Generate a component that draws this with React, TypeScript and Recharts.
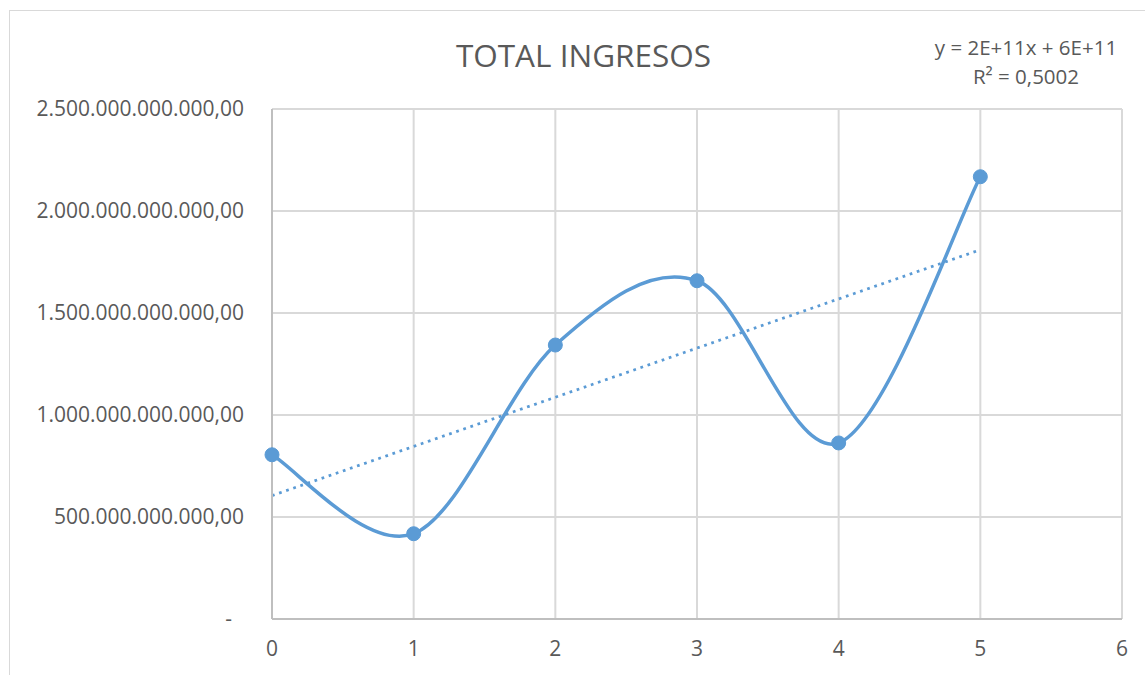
import * as React from 'react';
import { LineChart, Line, XAxis, YAxis, CartesianGrid } from 'recharts';

// Total ingresos por periodo
const periods = [0, 1, 2, 3, 4, 5];
const ingresos = [805e9, 418e9, 1343e9, 1658e9, 863e9, 2168e9];

// lineal trendline endpoints as drawn (y = 2E+11x + 6E+11)
const trendX = [0, 5];
const trendY = [605e9, 1810e9];

const xTicks = [0, 1, 2, 3, 4, 5, 6];
const yTicks = [0, 500e9, 1000e9, 1500e9, 2000e9, 2500e9];

const TEXT = '#595959';
const BLUE = '#5B9BD5';
const FONT = '"Open Sans", sans-serif';

const seriesData = periods.map((x, i) => ({ x, y: ingresos[i] }));
const trendData = trendX.map((x, i) => ({ x, y: trendY[i] }));

function fmtEs(v: number): string {
  const int = Math.round(v).toString().replace(/\B(?=(\d{3})+(?!\d))/g, '.');
  return `${int},00`;
}

// Excel-like smoothed line (Catmull-Rom through every point)
const excelSmooth = (context: any) => {
  let pts: [number, number][] = [];
  return {
    areaStart() {},
    areaEnd() {},
    lineStart() {
      pts = [];
    },
    point(x: number, y: number) {
      pts.push([+x, +y]);
    },
    lineEnd() {
      if (!pts.length) return;
      context.moveTo(pts[0][0], pts[0][1]);
      for (let i = 0; i < pts.length - 1; i++) {
        const p0 = pts[Math.max(i - 1, 0)];
        const p1 = pts[i];
        const p2 = pts[i + 1];
        const p3 = pts[Math.min(i + 2, pts.length - 1)];
        context.bezierCurveTo(
          p1[0] + (p2[0] - p0[0]) / 6,
          p1[1] + (p2[1] - p0[1]) / 6,
          p2[0] - (p3[0] - p1[0]) / 6,
          p2[1] - (p3[1] - p1[1]) / 6,
          p2[0],
          p2[1],
        );
      }
    },
  };
};

const YTick = (props: any) => {
  const { x, y, payload } = props;
  const zero = payload.value === 0;
  return (
    <text
      x={zero ? x - 12 : x}
      y={y}
      dy="0.35em"
      textAnchor="end"
      fill={TEXT}
      fontSize={21}
      fontFamily={FONT}
    >
      {zero ? '-' : fmtEs(payload.value)}
    </text>
  );
};

export default function App(): React.ReactElement {
  return (
    <div style={{ position: 'absolute', left: 0, top: 0, width: 1145, height: 675, background: '#fff', overflow: 'hidden' }}>
      <div
        style={{
          position: 'absolute',
          left: 9,
          top: 10,
          width: 1145,
          height: 680,
          border: '1.5px solid #D9D9D9',
          boxSizing: 'border-box',
        }}
      />
      <div
        style={{
          position: 'absolute',
          left: 0,
          width: 1167,
          top: 34,
          textAlign: 'center',
          fontFamily: FONT,
          fontSize: 31.5,
          color: TEXT,
          lineHeight: '42px',
        }}
      >
        TOTAL INGRESOS
      </div>
      <div
        style={{
          position: 'absolute',
          left: 926,
          width: 200,
          top: 33,
          textAlign: 'center',
          fontFamily: FONT,
          fontSize: 20.5,
          color: TEXT,
          lineHeight: '29px',
        }}
      >
        <div>y = 2E+11x + 6E+11</div>
        <div>R² = 0,5002</div>
      </div>
      <div style={{ position: 'absolute', left: 0, top: 0 }}>
        <LineChart width={1145} height={675} margin={{ top: 109, right: 23, bottom: 0, left: 0 }}>
          <CartesianGrid stroke="#D9D9D9" strokeWidth={2} horizontal vertical />
          <XAxis
            type="number"
            dataKey="x"
            domain={[0, 6]}
            ticks={xTicks}
            height={56}
            tickSize={0}
            tickMargin={22}
            axisLine={{ stroke: '#BFBFBF', strokeWidth: 2 }}
            tick={{ fill: TEXT, fontSize: 21, fontFamily: FONT }}
          />
          <YAxis
            type="number"
            domain={[0, 2500e9]}
            ticks={yTicks}
            width={272}
            tickSize={0}
            tickMargin={28}
            axisLine={{ stroke: '#BFBFBF', strokeWidth: 2 }}
            tick={<YTick />}
          />
          <Line
            data={trendData}
            dataKey="y"
            type="linear"
            stroke={BLUE}
            strokeWidth={2.75}
            strokeDasharray="2.75 4.75"
            dot={false}
            activeDot={false}
            isAnimationActive={false}
          />
          <Line
            data={seriesData}
            dataKey="y"
            type={excelSmooth as any}
            stroke={BLUE}
            strokeWidth={3.5}
            dot={{ r: 7, fill: BLUE, stroke: BLUE, strokeWidth: 1 }}
            activeDot={false}
            isAnimationActive={false}
          />
        </LineChart>
      </div>
    </div>
  );
}
